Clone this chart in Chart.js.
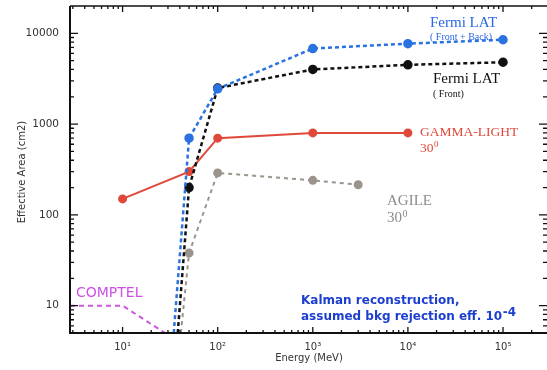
<!DOCTYPE html>
<html>
<head>
<meta charset="utf-8">
<script src="https://cdn.jsdelivr.net/npm/chart.js@4"></script>
<style>
  html, body { margin: 0; padding: 0; background: #fff; }
  #wrap { width: 547px; height: 370px; }
</style>
</head>
<body>
<div id="wrap"><canvas id="chart"></canvas></div>
<script>
// energies in MeV, effective area in cm2
const fermiAllE = [34.5, 50, 100, 1000, 10000, 100000];
const fermiAllA = [5, 700, 2450, 6800, 7700, 8500];
const fermiFrontE = [38, 50, 100, 1000, 10000, 100000];
const fermiFrontA = [5, 200, 2500, 4000, 4500, 4800];
const gammaLightE = [10, 50, 100, 1000, 10000];
const gammaLightA = [150, 300, 700, 800, 800];
const agileE = [41, 50, 100, 1000, 3000];
const agileA = [5, 38, 290, 240, 215];
const comptelE = [2.8, 10, 28];
const comptelA = [10, 10, 5];

const xTicks = [10, 100, 1000, 10000, 100000];
const xTickLabels = ['10\u00b9', '10\u00b2', '10\u00b3', '10\u2074', '10\u2075'];
const yTicks = [10, 100, 1000, 10000];
const yTickLabels = ['10', '100', '1000', '10000'];

function pts(xs, ys) {
    return xs.map((x, i) => ({ x: x, y: ys[i] }));
}

// first point sits below the axis, no marker there
function radii(n, r, hideFirst) {
    return Array.from({ length: n }, (_, i) => (hideFirst && i === 0) ? 0 : r);
}

function noPad(scale) {
    scale.paddingLeft = 0;
    scale.paddingRight = 0;
    scale.paddingTop = 0;
    scale.paddingBottom = 0;
}

const frame = {
    id: 'frame',
    afterDraw(chart) {
        const ctx = chart.ctx;
        const a = chart.chartArea;
        const xs = chart.scales.x, ys = chart.scales.y;
        ctx.save();
        ctx.strokeStyle = '#111';
        ctx.lineWidth = 2;
        ctx.beginPath();
        ctx.moveTo(a.left, a.top);
        ctx.lineTo(a.left, a.bottom);
        ctx.lineTo(a.right, a.bottom);
        ctx.stroke();
        ctx.lineWidth = 1.5;
        ctx.beginPath();
        ctx.moveTo(a.left, a.top);
        ctx.lineTo(a.right, a.top);
        ctx.stroke();

        // inward minor / major ticks
        ctx.lineWidth = 1.3;
        for (let n = 0; n <= 6; n++) {
            for (let k = 1; k <= 9; k++) {
                const v = k * Math.pow(10, n);
                const len = k === 1 ? 6 : 3;
                if (v > xs.min && v < xs.max) {
                    const px = xs.getPixelForValue(v);
                    ctx.beginPath();
                    ctx.moveTo(px, a.bottom);
                    ctx.lineTo(px, a.bottom - len);
                    ctx.moveTo(px, a.top);
                    ctx.lineTo(px, a.top + len);
                    ctx.stroke();
                }
                if (v > ys.min && v < ys.max) {
                    const py = ys.getPixelForValue(v);
                    const ylen = k === 1 ? 8 : 4;
                    ctx.beginPath();
                    ctx.moveTo(a.left, py);
                    ctx.lineTo(a.left + ylen, py);
                    ctx.moveTo(a.right, py);
                    ctx.lineTo(a.right - ylen, py);
                    ctx.stroke();
                }
            }
        }

        // axis titles
        ctx.fillStyle = '#333';
        ctx.font = '10px "DejaVu Sans"';
        ctx.textAlign = 'center';
        ctx.textBaseline = 'middle';
        ctx.fillText('Energy (MeV)', 309, 358);
        ctx.save();
        ctx.translate(22, 172);
        ctx.rotate(-Math.PI / 2);
        ctx.fillText('Effective Area (cm2)', 0, 0);
        ctx.restore();

        // curve labels
        ctx.textAlign = 'left';
        ctx.textBaseline = 'alphabetic';
        function sup(txt, base, x, y, size, color, font, bsize, rise) {
            ctx.fillStyle = color;
            ctx.font = size + 'px ' + font;
            ctx.fillText(txt, x, y);
            const w = ctx.measureText(txt).width;
            ctx.font = bsize + 'px ' + font;
            ctx.fillText(base, x + w + 0.5, y - rise);
        }
        const serif = '"Liberation Serif"';
        ctx.fillStyle = '#2a66e8';
        ctx.font = '15px ' + serif;
        ctx.fillText('Fermi LAT', 430, 27);
        ctx.font = '10px ' + serif;
        ctx.fillText('( Front + Back)', 430, 40);

        ctx.fillStyle = '#111';
        ctx.font = '15px ' + serif;
        ctx.fillText('Fermi LAT', 433, 83);
        ctx.font = '10px ' + serif;
        ctx.fillText('( Front)', 433, 97);

        ctx.fillStyle = '#e0483a';
        ctx.font = '13.5px ' + serif;
        ctx.fillText('GAMMA-LIGHT', 420, 136);
        sup('30', '0', 420, 152, 13.5, '#e0483a', serif, 9, 5);

        ctx.fillStyle = '#8c8c8c';
        ctx.font = '15px ' + serif;
        ctx.fillText('AGILE', 387, 205);
        sup('30', '0', 387, 222, 15, '#8c8c8c', serif, 10, 5.5);

        ctx.fillStyle = '#d050e6';
        ctx.font = '14px "DejaVu Sans"';
        ctx.fillText('COMPTEL', 76, 297);

        const kf = '"DejaVu Sans"';
        ctx.fillStyle = '#1c3fd0';
        ctx.font = 'bold 12px ' + kf;
        ctx.fillText('Kalman reconstruction,', 301, 304);
        sup('assumed bkg rejection eff. 10', '-4', 301, 320, 12, '#1c3fd0', 'bold ' + kf, 8, 4.5);
        ctx.restore();
    }
};

new Chart(document.getElementById('chart'), {
    type: 'line',
    data: {
        datasets: [
            {
                label: 'Fermi LAT (Front + Back)',
                data: pts(fermiAllE, fermiAllA),
                borderColor: '#2a72e0',
                backgroundColor: '#2a72e0',
                borderWidth: 2.5,
                borderDash: [4, 3],
                pointRadius: radii(fermiAllE.length, 3.5, true),
                tension: 0
            },
            {
                label: 'Fermi LAT (Front)',
                data: pts(fermiFrontE, fermiFrontA),
                borderColor: '#111',
                backgroundColor: '#111',
                borderWidth: 2.5,
                borderDash: [4, 3],
                pointRadius: radii(fermiFrontE.length, 3.5, true),
                tension: 0
            },
            {
                label: 'GAMMA-LIGHT 30',
                data: pts(gammaLightE, gammaLightA),
                borderColor: '#e0483a',
                backgroundColor: '#e0483a',
                borderWidth: 2,
                pointRadius: 3.5,
                tension: 0
            },
            {
                label: 'AGILE 30',
                data: pts(agileE, agileA),
                borderColor: '#9a948c',
                backgroundColor: '#9a948c',
                borderWidth: 2,
                borderDash: [4, 4],
                pointRadius: radii(agileE.length, 3.5, true),
                tension: 0
            },
            {
                label: 'COMPTEL',
                data: pts(comptelE, comptelA),
                borderColor: '#cc55dd',
                borderWidth: 2,
                borderDash: [5, 4],
                pointRadius: 0,
                tension: 0
            }
        ]
    },
    options: {
        responsive: true,
        maintainAspectRatio: false,
        animation: false,
        layout: {
            autoPadding: false,
            padding: { top: 6, right: 0, left: 0, bottom: 0 }
        },
        plugins: {
            legend: { display: false },
            tooltip: { enabled: false }
        },
        scales: {
            x: {
                type: 'logarithmic',
                min: 2.8,
                max: 290000,
                grid: { display: false },
                border: { display: false },
                afterBuildTicks: function (scale) {
                    scale.ticks = xTicks.map(v => ({ value: v }));
                },
                afterFit: function (scale) {
                    scale.height = 37;
                    noPad(scale);
                },
                ticks: {
                    autoSkip: false,
                    maxRotation: 0,
                    padding: 0,
                    color: '#333',
                    font: { family: 'DejaVu Sans', size: 10 },
                    callback: function (value) {
                        const i = xTicks.indexOf(value);
                        return i >= 0 ? xTickLabels[i] : '';
                    }
                }
            },
            y: {
                type: 'logarithmic',
                min: 5,
                max: 20000,
                grid: { display: false },
                border: { display: false },
                afterBuildTicks: function (scale) {
                    scale.ticks = yTicks.map(v => ({ value: v }));
                },
                afterFit: function (scale) {
                    scale.width = 70;
                    noPad(scale);
                },
                ticks: {
                    autoSkip: false,
                    padding: 3,
                    color: '#333',
                    font: { family: 'DejaVu Sans', size: 10.5 },
                    callback: function (value) {
                        const i = yTicks.indexOf(value);
                        return i >= 0 ? yTickLabels[i] : '';
                    }
                }
            }
        }
    },
    plugins: [frame]
});
</script>
</body>
</html>
